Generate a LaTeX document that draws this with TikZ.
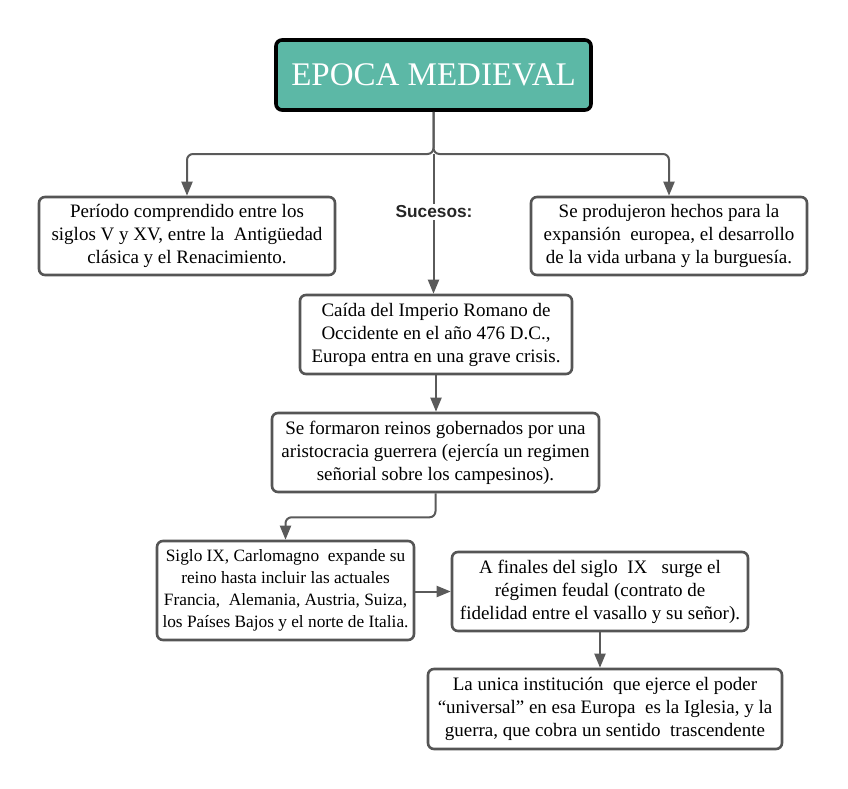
\documentclass[tikz,border=0pt]{standalone}
\usepackage{fontspec}
\setmainfont{Liberation Serif}
\newfontfamily\sucfont{Liberation Sans}
\usetikzlibrary{arrows.meta}
\definecolor{teal1}{HTML}{5CB8A6}
\definecolor{edge}{HTML}{5A5A5A}
\definecolor{boxline}{HTML}{555555}
\tikzset{
  txtbox/.style={draw=boxline, line width=2.6pt, rounded corners=6pt, fill=white,
    align=center, inner sep=0pt, font=\fontsize{19}{23}\selectfont, text=black},
  smallbox/.style={txtbox, font=\fontsize{17.3}{22}\selectfont},
  titlebox/.style={draw=black, line width=3.6pt, rounded corners=6pt, fill=teal1,
    align=center, inner sep=0pt, font=\fontsize{33}{38}\selectfont, text=white},
  conn/.style={draw=edge, line width=2pt, -{Triangle[length=14pt,width=11pt]}, rounded corners=6pt},
  plain/.style={draw=edge, line width=2pt, rounded corners=6pt}
}
\begin{document}
\begin{tikzpicture}[x=1pt,y=-1pt]
\useasboundingbox (0,0) rectangle (848,789);
\node[titlebox, minimum width=315pt, minimum height=70pt] (title) at (433.5,75) {EPOCA MEDIEVAL};
\node[txtbox, minimum width=296pt, minimum height=78pt] (left) at (187,236)
  {Período comprendido entre los\\siglos V y XV, entre la\ \ Antigüedad\\clásica y el Renacimiento.};
\node[txtbox, minimum width=276pt, minimum height=78pt] (right) at (669,236)
  {Se produjeron hechos para la\\expansión\ \ europea, el desarrollo\\de la vida urbana y la burguesía.};
\node[txtbox, minimum width=272pt, minimum height=79pt] (b3) at (436,334.5)
  {Caída del Imperio Romano de\\Occidente en el año 476 D.C.,\\Europa entra en una grave crisis.};
\node[txtbox, minimum width=327pt, minimum height=79pt] (b4) at (435.5,452.5)
  {Se formaron reinos gobernados por una\\aristocracia guerrera (ejercía un regimen\\señorial sobre los campesinos).};
\node[smallbox, minimum width=257pt, minimum height=99pt] (b5) at (285.5,590.5)
  {Siglo IX, Carlomagno\ \ expande su\\reino hasta incluir las actuales\\Francia,\ \ Alemania, Austria, Suiza,\\los Países Bajos y el norte de Italia.};
\node[txtbox, minimum width=296pt, minimum height=79pt] (b6) at (600,591.5)
  {A finales del siglo\ \ IX\ \ \ surge el\\régimen feudal (contrato de\\fidelidad entre el vasallo y su señor).};
\node[txtbox, minimum width=354pt, minimum height=80pt] (b7) at (605,709)
  {La unica institución\ \ que ejerce el poder\\“universal” en esa Europa\ \ es la Iglesia, y la\\guerra, que cobra un sentido\ \ trascendente};
\node[font=\sucfont\bfseries\fontsize{17.3}{20}\selectfont, text=black!85, fill=white, inner sep=2pt] (suc) at (434,212) {Sucesos:};
\coordinate (j) at (433.5,154);
\draw[conn] (title.south) -- (j) -| (left.north);
\draw[conn] (title.south) -- (j) -| (right.north);
\draw[plain] (j) -- (j |- suc.north);
\draw[conn] (j |- suc.south) -- (j |- b3.north);
\draw[conn] (b3.south) -- (b3.south |- b4.north);
\draw[conn] (b4.south) -- ++(0,24) -| (b5.north);
\draw[conn] (b5.east |- b6.west) -- (b6.west);
\draw[conn] (b6.south) -- (b6.south |- b7.north);
\end{tikzpicture}
\end{document}
